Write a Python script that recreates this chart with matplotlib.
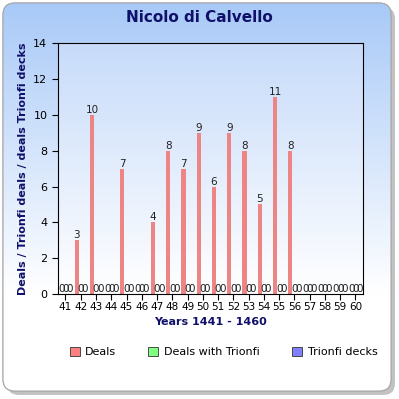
import numpy as np
import matplotlib.pyplot as plt
from matplotlib.patches import FancyBboxPatch, Patch

jahre = list(range(1441, 1461))
tick_labels = [str(j)[2:] for j in jahre]
deals = [0, 3, 10, 0, 7, 0, 4, 8, 7, 9, 6, 9, 8, 5, 11, 8, 0, 0, 0, 0]
deals_trionfi = [0] * 20
trionfi_decks = [0] * 20

navy = "#10106a"

fig = plt.figure(figsize=(3.99, 3.99), dpi=100)
fig.patch.set_facecolor("white")

# hintergrund karte mit schatten und verlauf
bg = fig.add_axes([0, 0, 1, 1])
bg.set_xlim(0, 399)
bg.set_ylim(399, 0)
bg.axis("off")
schatten = FancyBboxPatch((7, 7), 388, 388, boxstyle="round,pad=0,rounding_size=12",
                          facecolor="#9a9a9a", edgecolor="none", alpha=0.6)
bg.add_patch(schatten)
karte = FancyBboxPatch((3, 3), 388, 388, boxstyle="round,pad=0,rounding_size=12",
                       facecolor="white", edgecolor="#b0b0b0", linewidth=0.8)
bg.add_patch(karte)
verlauf = np.linspace(0, 1, 256).reshape(-1, 1)
verlauf = np.clip(verlauf / 0.75, 0, 1)
farbe_oben = np.array([0.66, 0.79, 0.97])
bild = farbe_oben + (1 - farbe_oben) * verlauf[:, :, None]
im = bg.imshow(bild, extent=(3, 391, 391, 3), aspect="auto", zorder=1)
im.set_clip_path(karte)
karte_rand = FancyBboxPatch((3, 3), 388, 388, boxstyle="round,pad=0,rounding_size=12",
                            facecolor="none", edgecolor="#a8a8a8", linewidth=0.8, zorder=2)
bg.add_patch(karte_rand)

ax = fig.add_axes([0.145, 0.263, 0.765, 0.629])
ax.set_facecolor("none")
x = np.arange(len(jahre))
b = 0.27
oben = np.array([0.78, 0.86, 0.98])
plot_verlauf = oben + (1 - oben) * np.linspace(0, 1, 256).reshape(-1, 1)[:, :, None]
ax.imshow(plot_verlauf, extent=(-0.5, len(jahre) - 0.5, 0, 14), aspect="auto", zorder=0)
ax.set_ylim(0, 14)
ax.set_xlim(-0.5, len(jahre) - 0.5)

r1 = ax.bar(x - b, deals, b, color="#ee8585", zorder=2)
r2 = ax.bar(x, deals_trionfi, b, color="#80ff80", zorder=2)
r3 = ax.bar(x + b, trionfi_decks, b, color="#8080ff", zorder=2)
for rects in (r1, r2, r3):
    ax.bar_label(rects, padding=0, fontsize=7.5, color="#222222")

ax.set_xticks(x)
ax.set_xticklabels(tick_labels, fontsize=7.5)
ax.set_yticks(range(0, 15, 2))
ax.tick_params(axis="y", labelsize=8, length=4)
ax.tick_params(axis="x", length=4, pad=2)
ax.set_ylabel("Deals / Trionfi deals / deals Trionfi decks", fontsize=8, fontweight="bold", color=navy)
ax.set_xlabel("Years 1441 - 1460", fontsize=8, fontweight="bold", color=navy, labelpad=3)
fig.text(0.5, 0.955, "Nicolo di Calvello", ha="center", va="center", fontsize=11,
         fontweight="bold", color=navy)

griffe = [Patch(facecolor="#ff8080", edgecolor="#333333", linewidth=0.6),
          Patch(facecolor="#80ff80", edgecolor="#333333", linewidth=0.6),
          Patch(facecolor="#8080ff", edgecolor="#333333", linewidth=0.6)]
fig.legend(griffe, ["Deals", "Deals with Trionfi", "Trionfi decks"], loc="center",
           bbox_to_anchor=(0.56, 0.118), ncol=3, frameon=False, fontsize=8,
           handlelength=0.9, handleheight=0.9, columnspacing=2.9, handletextpad=0.5)

plt.savefig("out.png", dpi=100)
